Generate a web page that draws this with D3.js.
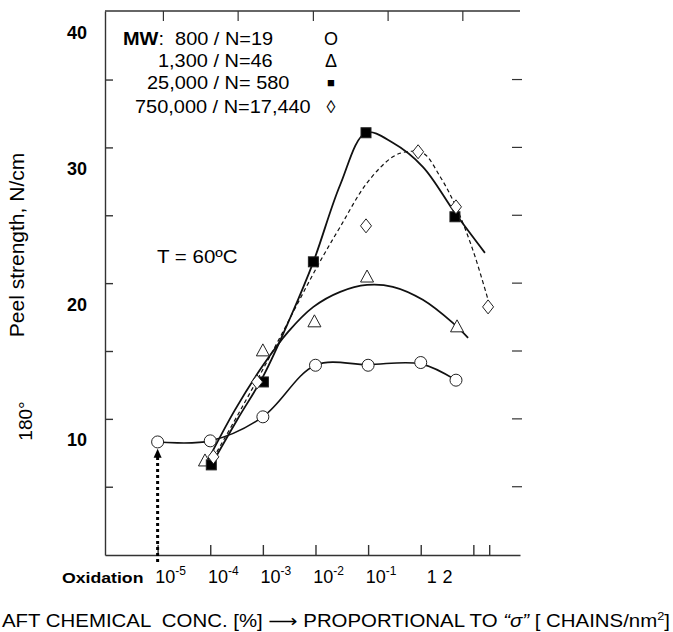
<!DOCTYPE html>
<html>
<head>
<meta charset="utf-8">
<script src="https://cdn.jsdelivr.net/npm/d3@7"></script>
<style>
body { margin: 0; background: #fff; }
svg { font-family: "Liberation Sans", Arial, sans-serif; }
text { white-space: pre; }
</style>
</head>
<body>
<div class="canvas"></div>
<script>
// x values are log10 of grafting chemical concentration, y is peel strength in N/cm

// measured points
var mw800 = [[-5, 9.85], [-4, 9.93], [-3, 11.7], [-2, 15.5], [-1, 15.5], [0, 15.7], [0.67, 14.4]];
var mw1300 = [[-4.1, 8.45], [-3, 16.56], [-2.02, 18.7], [-1.02, 22.0], [0.69, 18.33]];
var mw25k = [[-3.98, 8.16], [-2.99, 14.27], [-2.04, 23.12], [-1.04, 32.63], [0.65, 26.44]];
var mw750k = [[-3.94, 8.75], [-3.11, 14.27], [-1.04, 25.77], [-0.05, 31.23], [0.67, 27.17], [1.28, 19.8]];

// hand drawn trend curves
var fit800 = [[-5, 9.85], [-4, 9.93], [-3, 11.7], [-2, 15.5], [-1, 15.55], [0, 15.6], [0.67, 14.4]];
var fit1300 = [[-4.06, 8.38], [-3.53, 12.21], [-2.99, 15.53], [-2.52, 17.96], [-2.04, 19.8], [-1.53, 20.91],
  [-1.02, 21.42], [-0.53, 21.28], [0.04, 20.32], [0.61, 18.62], [0.9, 17.52]];
var fit25k = [[-3.98, 8.16], [-3.49, 11.47], [-2.99, 14.72], [-2.48, 19.0], [-2.04, 23.12], [-1.53, 28.8],
  [-1.04, 32.63], [-0.53, 31.89], [0.04, 30.12], [0.65, 26.73], [1.22, 23.78]];
var fit750k = [[-3.94, 8.67], [-3.37, 12.58], [-2.8, 16.63], [-1.97, 22.75], [-1.53, 25.7], [-1.02, 28.94],
  [-0.53, 30.86], [-0.26, 31.23], [0.04, 31.15], [0.37, 29.39], [0.67, 27.18], [0.99, 24.0], [1.28, 20.32]];

// axes
var xTickExp = [-5, -4, -3, -2, -1, 0, 1, 1.301];
var xLabelExp = [-5, -4, -3, -2, -1];
var xPlainLabels = [[0, '1'], [0.301, '2']];
var yLabels = [10, 20, 30, 40];
var yTicks = [6.55, 11.55, 16.55, 21.55, 26.55, 31.55, 36.55];
var topTickExp = [-4.89, -3.47, -2.04, -0.62, 0.8];

// legend
var legendMW = ['800 / N=19', '1,300 / N=46', '25,000 / N= 580', '750,000 / N=17,440'];
var legendSym = ['O', '\u0394', '\u25A0', '\u25CA'];

var arrowAt = [-5, 9.34];

var width = 673, height = 632;
var svg = d3.select('.canvas').append('svg')
  .attr('width', width).attr('height', height);

var x = d3.scaleLog().domain([1e-6, 77]).range([105, 520]);
var y = d3.scaleLinear().domain([1.52, 41.6]).range([555, 11]);
var px = function (d) { return x(Math.pow(10, d[0])); };
var py = function (d) { return y(d[1]); };

var axisCol = '#333';
var wide = 1.14; // the source lettering is a bit wider than Arial

// put a horizontally stretched text at (tx, ty)
function wideText(g, tx, ty) {
  return g.append('text')
    .attr('transform', 'translate(' + tx + ',' + ty + ') scale(' + wide + ',1)');
}

// left axis, ticks point inward
var gy = svg.append('g').attr('transform', 'translate(105,0)')
  .call(d3.axisLeft(y).tickValues(yTicks).tickSizeInner(-8).tickSizeOuter(0).tickFormat(''));
gy.selectAll('path,line').attr('stroke', axisCol).attr('stroke-width', 1.4);

svg.append('g').selectAll('text')
  .data(yLabels).enter().append('text')
  .attr('x', 87).attr('y', function (d) { return y(d); })
  .attr('dy', '0.36em')
  .attr('text-anchor', 'end')
  .attr('font-weight', 'bold').attr('font-size', 18)
  .text(function (d) { return d; });

// bottom axis
var gx = svg.append('g').attr('transform', 'translate(0,555)')
  .call(d3.axisBottom(x).tickValues(xTickExp.map(function (e) { return Math.pow(10, e); }))
    .tickSizeInner(-10).tickSizeOuter(0).tickFormat(''));
gx.selectAll('path,line').attr('stroke', axisCol).attr('stroke-width', 1.4);

// top line and right tick marks
svg.append('line').attr('x1', 105).attr('x2', 520).attr('y1', 11).attr('y2', 11)
  .attr('stroke', axisCol).attr('stroke-width', 1.4);
svg.append('g').selectAll('line').data(topTickExp).enter().append('line')
  .attr('x1', function (e) { return x(Math.pow(10, e)); })
  .attr('x2', function (e) { return x(Math.pow(10, e)); })
  .attr('y1', 11).attr('y2', 21)
  .attr('stroke', axisCol).attr('stroke-width', 1.2);
svg.append('g').selectAll('line').data(yTicks).enter().append('line')
  .attr('x1', 512).attr('x2', 522)
  .attr('y1', function (d) { return y(d); }).attr('y2', function (d) { return y(d); })
  .attr('stroke', axisCol).attr('stroke-width', 1.2);

// x labels
var xl = svg.append('g').attr('font-size', 18);
xLabelExp.forEach(function (e) {
  var t = xl.append('text')
    .attr('x', x(Math.pow(10, e)) + 13).attr('y', 583)
    .attr('text-anchor', 'middle');
  t.append('tspan').text('10');
  t.append('tspan').attr('font-size', 12).attr('dy', -8).text(e);
});
xPlainLabels.forEach(function (d) {
  xl.append('text')
    .attr('x', x(Math.pow(10, d[0])) + 11).attr('y', 583)
    .attr('text-anchor', 'middle')
    .text(d[1]);
});

wideText(svg, 62, 583).attr('font-weight', 'bold').attr('font-size', 15.5)
  .text('Oxidation');

// axis titles
svg.append('text')
  .attr('transform', 'translate(24,245) rotate(-90)')
  .attr('text-anchor', 'middle').attr('font-size', 21)
  .text('Peel strength, N/cm');
svg.append('text')
  .attr('transform', 'translate(32,421) rotate(-90)')
  .attr('text-anchor', 'middle').attr('font-size', 19)
  .text('180\u00B0');

var bottom = svg.append('text')
  .attr('x', 2).attr('y', 627).attr('font-size', 17.5)
  .attr('textLength', 668).attr('lengthAdjust', 'spacingAndGlyphs');
bottom.append('tspan').text('AFT CHEMICAL  CONC. [%] ');
bottom.append('tspan').attr('font-family', 'DejaVu Sans').text('\u27F6');
bottom.append('tspan').text(' PROPORTIONAL TO ');
bottom.append('tspan').attr('font-style', 'italic').text('\u201C\u03C3\u201D');
bottom.append('tspan').text(' [ CHAINS/nm');
bottom.append('tspan').attr('font-size', 11).attr('dy', -7).text('2');
bottom.append('tspan').attr('dy', 7).text(']');

wideText(svg, 157, 263).attr('font-size', 18).text('T = 60\u00BAC');

// legend
var lg = svg.append('g').attr('font-size', 17.5);
var legX = [123, 158, 147, 135];
var legY = [45, 67, 89, 113];
legendMW.forEach(function (s, i) {
  var t = wideText(lg, legX[i], legY[i]);
  if (i === 0) {
    t.append('tspan').attr('font-weight', 'bold').text('MW');
    t.append('tspan').text(':  ' + s);
  } else {
    t.text(s);
  }
  lg.append('text').attr('x', 331).attr('y', legY[i])
    .attr('text-anchor', 'middle')
    .attr('font-size', i === 2 ? 13 : 18)
    .attr('dy', i === 2 ? -2 : 0)
    .text(legendSym[i]);
});

// trend curves
var line = d3.line().x(px).y(py).curve(d3.curveCatmullRom.alpha(0.5));
var curves = svg.append('g').attr('fill', 'none').attr('stroke', '#111');
curves.append('path').datum(fit800).attr('d', line).attr('stroke-width', 1.6);
curves.append('path').datum(fit1300).attr('d', line).attr('stroke-width', 1.8);
curves.append('path').datum(fit25k).attr('d', line).attr('stroke-width', 1.8);
curves.append('path').datum(fit750k).attr('d', line).attr('stroke-width', 1.2)
  .attr('stroke-dasharray', '4,3');

// dotted arrow from oxidation point
var ax = x(Math.pow(10, arrowAt[0])), ay = y(arrowAt[1]);
svg.append('line').attr('x1', ax).attr('x2', ax).attr('y1', 562).attr('y2', ay + 7)
  .attr('stroke', '#000').attr('stroke-width', 3).attr('stroke-dasharray', '3,3');
svg.append('path')
  .attr('d', 'M' + ax + ',' + ay + 'L' + (ax + 4) + ',' + (ay + 9) + 'L' + (ax - 4) + ',' + (ay + 9) + 'Z')
  .attr('fill', '#000');

// markers
var mk = svg.append('g').attr('stroke', '#222').attr('stroke-width', 1);
mk.selectAll('circle').data(mw800).enter().append('circle')
  .attr('cx', px).attr('cy', py).attr('r', 6).attr('fill', '#fff');
mk.selectAll('path.tri').data(mw1300).enter().append('path').attr('class', 'tri')
  .attr('d', function (d) {
    var cx = px(d), cy = py(d);
    return 'M' + cx + ',' + (cy - 7) + 'L' + (cx + 6.5) + ',' + (cy + 5) + 'L' + (cx - 6.5) + ',' + (cy + 5) + 'Z';
  })
  .attr('fill', '#fff');
mk.selectAll('rect').data(mw25k).enter().append('rect')
  .attr('x', function (d) { return px(d) - 5; })
  .attr('y', function (d) { return py(d) - 5; })
  .attr('width', 10).attr('height', 10).attr('fill', '#000');
mk.selectAll('path.dia').data(mw750k).enter().append('path').attr('class', 'dia')
  .attr('d', function (d) {
    var cx = px(d), cy = py(d);
    return 'M' + cx + ',' + (cy - 7) + 'L' + (cx + 5.5) + ',' + cy + 'L' + cx + ',' + (cy + 7) + 'L' + (cx - 5.5) + ',' + cy + 'Z';
  })
  .attr('fill', '#fff');
</script>
</body>
</html>
